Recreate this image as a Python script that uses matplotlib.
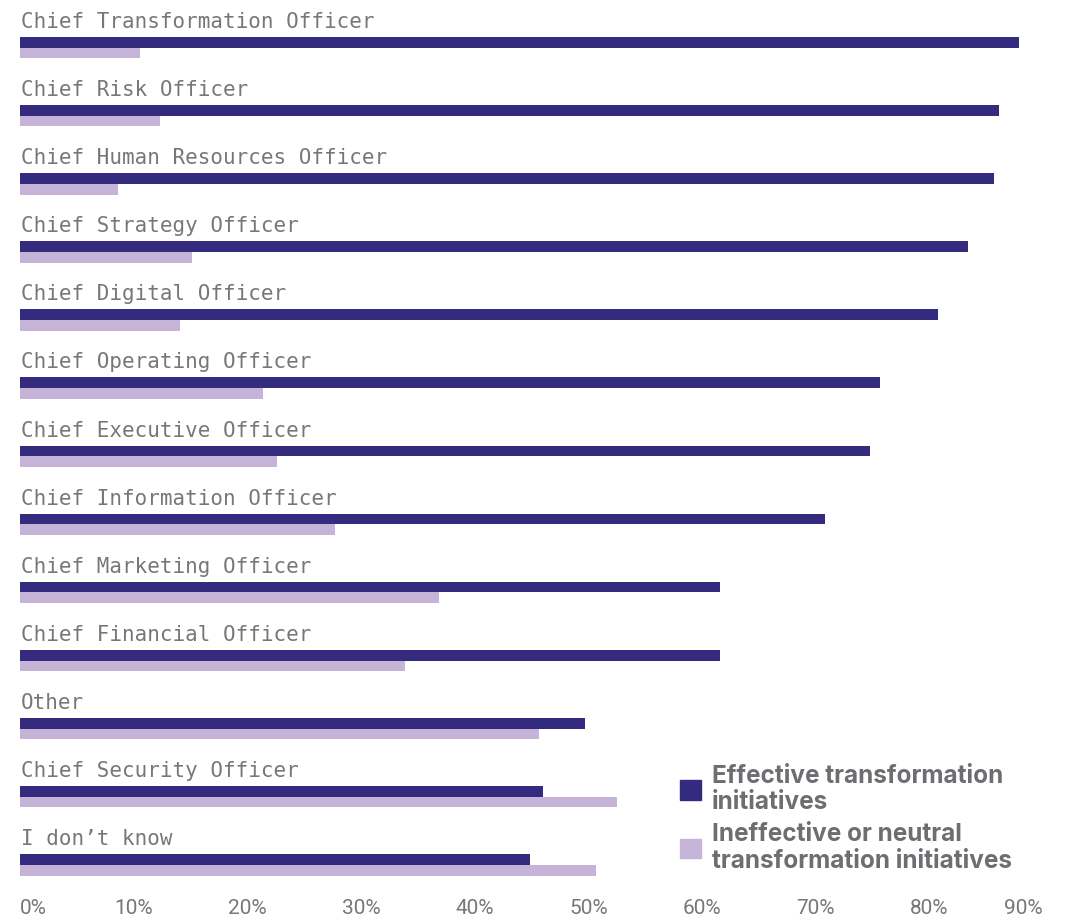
import numpy as np
import matplotlib.pyplot as plt
from matplotlib.patches import Patch

# roles, top to bottom
categories = ['Chief Transformation Officer', 'Chief Risk Officer',
              'Chief Human Resources Officer', 'Chief Strategy Officer',
              'Chief Digital Officer', 'Chief Operating Officer',
              'Chief Executive Officer', 'Chief Information Officer',
              'Chief Marketing Officer', 'Chief Financial Officer',
              'Other', 'Chief Security Officer', 'I don\u2019t know']
effective = [87.9, 86.1, 85.7, 83.4, 80.8, 75.7, 74.8, 70.8, 61.6, 61.6, 49.7, 46.0, 44.9]
ineffective = [10.6, 12.3, 8.6, 15.1, 14.1, 21.4, 22.6, 27.7, 36.9, 33.9, 45.7, 52.5, 50.7]
series_names = ['Effective transformation\ninitiatives',
                'Ineffective or neutral\ntransformation initiatives']
ticks = [0, 10, 20, 30, 40, 50, 60, 70, 80, 90]
tick_labels = [f'{t}%' for t in ticks]

dark = '#342b7f'
light = '#c5b3d8'
grey = '#77777a'

fig = plt.figure(figsize=(10.75, 9.19), dpi=100)
ax = fig.add_axes([20/1075, 1 - 880/919, 1023/1075, 880/919])

y = np.arange(len(categories))
h = 0.157
ax.barh(y + h/2, effective, height=h, color=dark, linewidth=0)
ax.barh(y + 1.5*h, ineffective, height=h, color=light, linewidth=0)

for i, cat in enumerate(categories):
    ax.text(0.05, i - 0.132, cat, va='baseline', ha='left',
            family='DejaVu Sans Mono', fontsize=15, color=grey)

ax.set_xlim(0, 90)
ax.set_ylim(12.38, -0.543)
for s in ax.spines.values():
    s.set_visible(False)
ax.set_yticks([])
ax.set_xticks(ticks)
ax.set_xticklabels(tick_labels, family='Roboto', fontsize=15, color=grey)
ax.tick_params(axis='x', length=0, pad=14)
xl = ax.get_xticklabels()
xl[0].set_ha('left')
xl[-1].set_ha('right')

handles = [Patch(color=dark), Patch(color=light)]
leg = ax.legend(handles, series_names, loc='upper left',
                bbox_to_anchor=(680/1075, 1 - 765/919), bbox_transform=fig.transFigure,
                frameon=False, borderpad=0, borderaxespad=0,
                handlelength=0.86, handleheight=0.86, handletextpad=0.45,
                labelspacing=0.38, labelcolor='#6e6e72',
                prop={'family': 'Inter', 'weight': 'bold', 'size': 17.5})
for t in leg.get_texts():
    t.set_linespacing(1.18)

fig.savefig('out.png', dpi=100)
